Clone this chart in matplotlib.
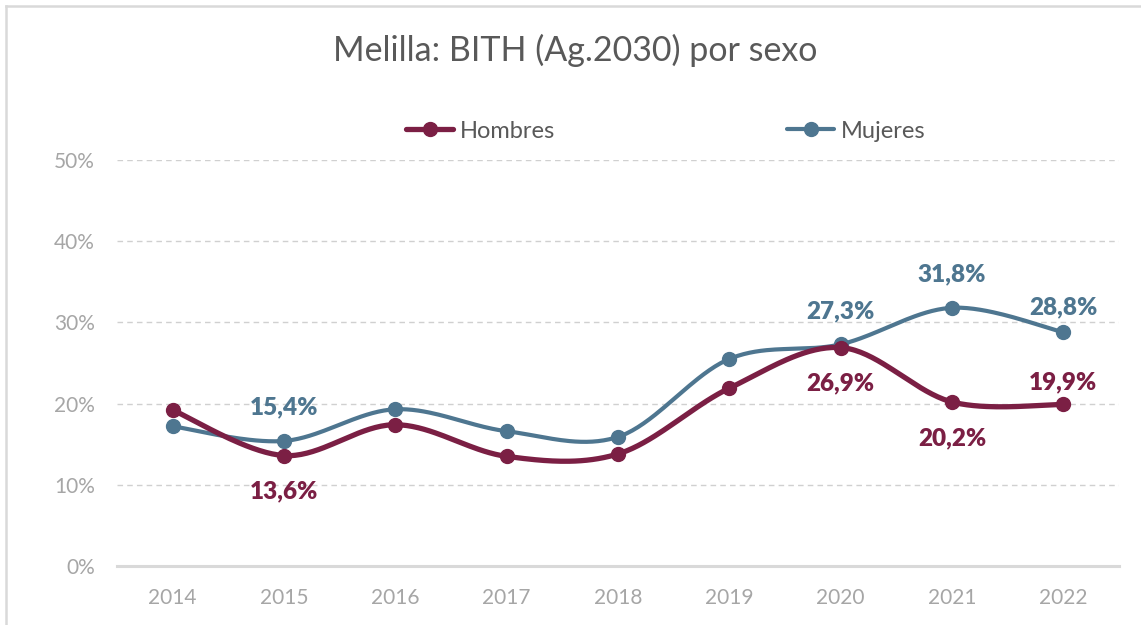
import numpy as np
import matplotlib
matplotlib.use("Agg")
import matplotlib.pyplot as plt
from matplotlib.lines import Line2D

years = ["2014", "2015", "2016", "2017", "2018", "2019", "2020", "2021", "2022"]
hombres = [19.2, 13.6, 17.4, 13.5, 13.8, 21.9, 26.9, 20.2, 19.9]
mujeres = [17.2, 15.4, 19.3, 16.6, 15.9, 25.5, 27.3, 31.8, 28.8]
yticks = [0, 10, 20, 30, 40, 50]
ytick_labels = ["0%", "10%", "20%", "30%", "40%", "50%"]

# which points carry labels, and where (offset in points)
hombres_labels = {1: -26, 6: -26, 7: -26, 8: 16}
mujeres_labels = {1: 24, 6: 24, 7: 24, 8: 18}

C_H = "#7b1f44"
C_M = "#4e7690"
FONT = "Lato"

plt.rcParams["font.family"] = [FONT, "DejaVu Sans"]


def smooth(x, y, n=40):
    x = np.asarray(x, float)
    y = np.asarray(y, float)
    P = np.column_stack([x, y])
    out = []
    for i in range(len(P) - 1):
        p0 = P[i - 1] if i > 0 else P[i]
        p1 = P[i]
        p2 = P[i + 1]
        p3 = P[i + 2] if i + 2 < len(P) else P[i + 1]
        c1 = p1 + (p2 - p0) / 6.0
        c2 = p2 - (p3 - p1) / 6.0
        t = np.linspace(0, 1, n)[:, None]
        seg = ((1 - t) ** 3) * p1 + 3 * ((1 - t) ** 2) * t * c1 + 3 * (1 - t) * t ** 2 * c2 + t ** 3 * p2
        out.append(seg if i == 0 else seg[1:])
    s = np.vstack(out)
    return s[:, 0], s[:, 1]


fig = plt.figure(figsize=(11.41, 6.25), dpi=100)
ax = fig.add_axes([117 / 1141, 59 / 625, 1002 / 1141, 406 / 625])

xs = np.arange(len(years))

for vals, col, z, lw in [(mujeres, C_M, 3, 3.0), (hombres, C_H, 4, 3.8)]:
    sx, sy = smooth(xs, vals)
    ax.plot(sx, sy, color=col, lw=lw, solid_capstyle="round", zorder=z)
    ax.plot(xs, vals, "o", color=col, ms=10, zorder=z + 0.5)

for i, off in hombres_labels.items():
    ax.annotate(f"{hombres[i]:.1f}%".replace(".", ","), (xs[i], hombres[i]),
                xytext=(0, off), textcoords="offset points", ha="center", va="center",
                color=C_H, fontsize=17.5, fontweight="heavy", zorder=6)
for i, off in mujeres_labels.items():
    ax.annotate(f"{mujeres[i]:.1f}%".replace(".", ","), (xs[i], mujeres[i]),
                xytext=(0, off), textcoords="offset points", ha="center", va="center",
                color=C_M, fontsize=17.5, fontweight="heavy", zorder=6)

ax.set_xlim(-0.5, len(years) - 0.5)
ax.set_ylim(0, 50)
ax.set_xticks(xs)
ax.set_xticklabels(years)
ax.set_yticks(yticks)
ax.set_yticklabels(ytick_labels)
ax.tick_params(axis="both", length=0, labelsize=15, colors="#a6a6a6")
ax.tick_params(axis="x", pad=16)
ax.tick_params(axis="y", pad=16)

for s in ["top", "right", "left"]:
    ax.spines[s].set_visible(False)
ax.spines["bottom"].set_color("#d9d9d9")
ax.spines["bottom"].set_linewidth(2.2)
ax.yaxis.grid(True, color="#d0d0d0", linestyle=(0, (4, 3)), lw=1.0)
ax.set_axisbelow(True)

fig.text(575 / 1141, 1 - 50 / 625, "Melilla: BITH (Ag.2030) por sexo", ha="center", va="center",
         fontsize=24.5, color="#595959")

handles = [Line2D([], [], color=C_H, lw=3.8, marker="o", ms=10, solid_capstyle="round"),
           Line2D([], [], color=C_M, lw=3.0, marker="o", ms=10, solid_capstyle="round")]
leg = fig.legend(handles, ["Hombres", "Mujeres"], loc="center", bbox_to_anchor=(666 / 1141, 1 - 131 / 625),
                 ncol=2, frameon=False, fontsize=17, handlelength=2.0, handletextpad=0.3,
                 columnspacing=9.8, labelcolor="#595959")

# light border at left and top of the picture
fig.add_artist(Line2D([5.5 / 1141, 5.5 / 1141], [0, 1 - 6 / 625], color="#d9d9d9", lw=1.8, transform=fig.transFigure))
fig.add_artist(Line2D([5.5 / 1141, 1], [1 - 6 / 625, 1 - 6 / 625], color="#d9d9d9", lw=1.8, transform=fig.transFigure))

fig.savefig("out.png", dpi=100)
